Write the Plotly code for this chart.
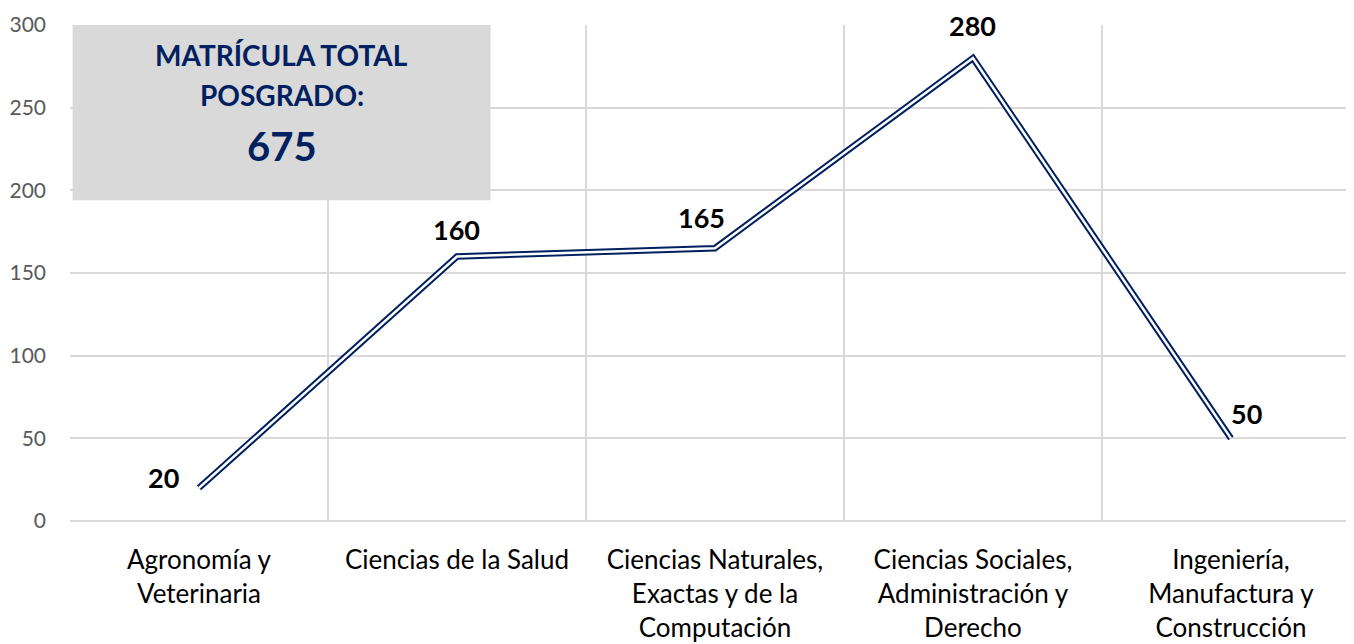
import plotly.graph_objects as go

categories = ["Agronomía y<br>Veterinaria", "Ciencias de la Salud",
              "Ciencias Naturales,<br>Exactas y de la<br>Computación",
              "Ciencias Sociales,<br>Administración y<br>Derecho",
              "Ingeniería,<br>Manufactura y<br>Construcción"]
values = [20, 160, 165, 280, 50]
label_offsets = [(-35, 10), (0, 27), (-13, 31), (0, 33), (16, 25)]
y_ticks = [0, 50, 100, 150, 200, 250, 300]
total_line1 = "MATRÍCULA TOTAL"
total_line2 = "POSGRADO:"
total_value = "675"

NAVY = "#002060"
FONT = "Lato"
GRID = "#D9D9D9"

fig = go.Figure()
fig.add_trace(go.Scatter(x=categories, y=values, mode="lines",
                         line=dict(color=NAVY, width=6.5), hoverinfo="skip"))
fig.add_trace(go.Scatter(x=categories, y=values, mode="lines",
                         line=dict(color="white", width=2.5), hoverinfo="skip"))

for c, v, (dx, dy) in zip(categories, values, label_offsets):
    fig.add_annotation(x=c, y=v, text=f"<b>{v}</b>", showarrow=False,
                       xshift=dx, yshift=dy,
                       font=dict(family=FONT, size=27, color="black"))

# total box
fig.add_shape(type="rect", xref="x", yref="y", x0=-0.49, x1=1.13, y0=194, y1=300,
              fillcolor="#D9D9D9", line=dict(width=0), layer="above")
box_cx = 0.32
fig.add_annotation(xref="x", yref="y", x=box_cx, y=282, text=f"<b>{total_line1}</b>",
                   showarrow=False, font=dict(family=FONT, size=28, color=NAVY))
fig.add_annotation(xref="x", yref="y", x=box_cx, y=257.5, text=f"<b>{total_line2}</b>",
                   showarrow=False, font=dict(family=FONT, size=28, color=NAVY))
fig.add_annotation(xref="x", yref="y", x=box_cx, y=227, text=f"<b>{total_value}</b>",
                   showarrow=False, font=dict(family=FONT, size=40, color=NAVY))

fig.update_layout(
    width=1346, height=636,
    margin=dict(l=62, r=0, t=17, b=123, autoexpand=False),
    paper_bgcolor="white", plot_bgcolor="white",
    showlegend=False,
    font=dict(family=FONT),
)
fig.update_xaxes(
    type="category", range=[-0.5, 4.477],
    tickson="boundaries", showgrid=True, gridcolor=GRID, gridwidth=2,
    ticks="", tickfont=dict(family=FONT, size=26, color="#000000"),
    showline=False, zeroline=False, automargin=False,
    ticklabelstandoff=21,
)
fig.update_yaxes(
    range=[0, 300], tickvals=y_ticks, showgrid=True, gridcolor=GRID, gridwidth=2,
    zeroline=True, zerolinecolor=GRID, zerolinewidth=2,
    tickfont=dict(family=FONT, size=21, color="#595959"), ticks="",
    ticklabelstandoff=23, automargin=False,
)
fig.write_html("out.html")
